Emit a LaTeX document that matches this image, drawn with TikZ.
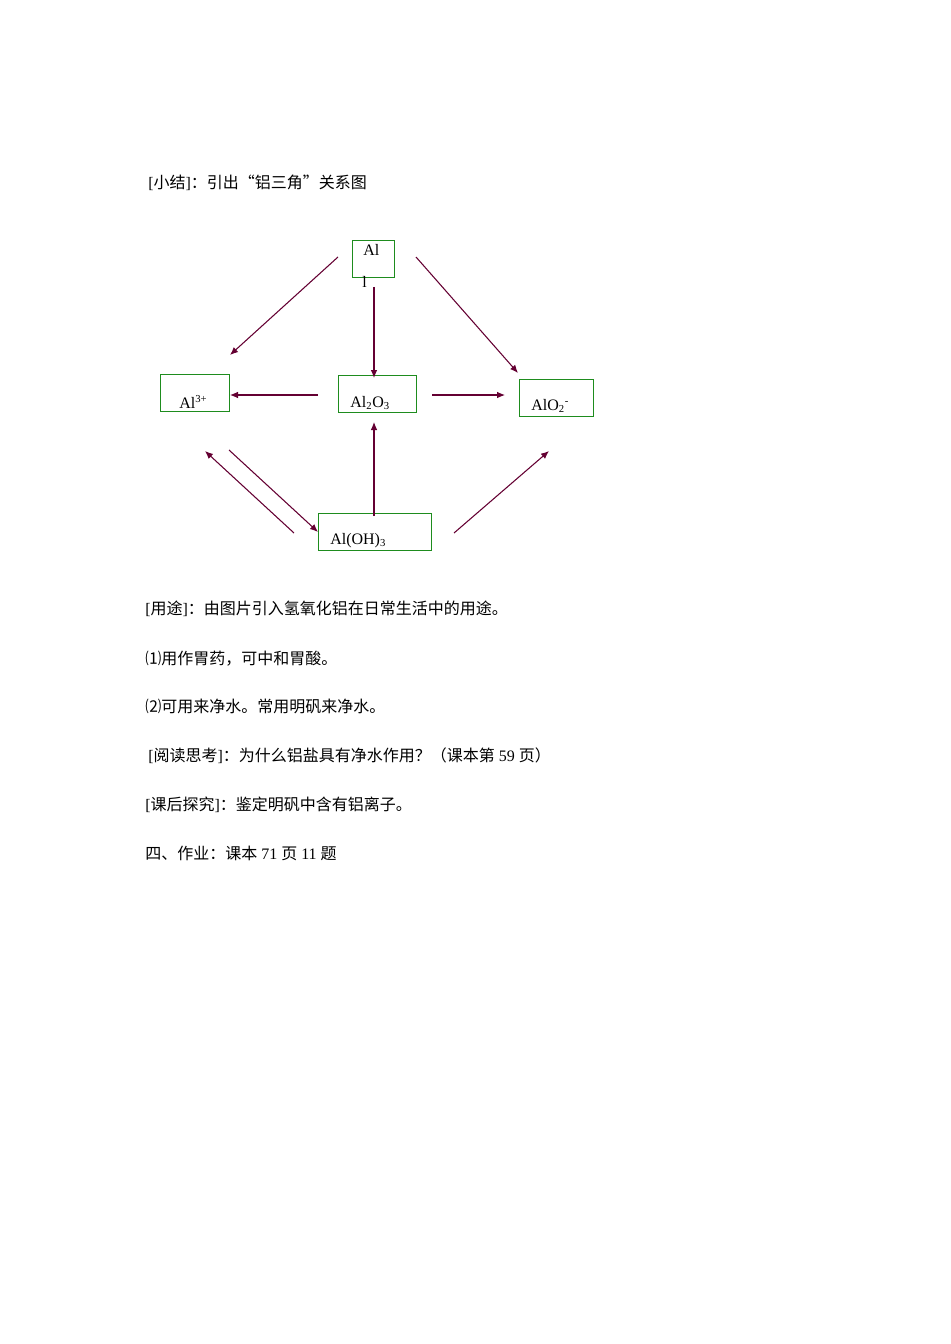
\documentclass[tikz,border=0pt]{standalone}
\usepackage{fontspec}
\usetikzlibrary{arrows.meta}
\setmainfont{Liberation Serif}
\newfontfamily\cjk{Noto Sans CJK SC}
\begin{document}
\begin{tikzpicture}[x=0.75pt,y=-0.75pt,
  box/.style={draw={rgb,255:red,30;green,140;blue,30},line width=0.6pt},
  arr/.style={draw={rgb,255:red,100;green,0;blue,50},line width=0.8pt,-{Latex[length=6pt,width=5pt]}},
  lbl/.style={anchor=base west,inner sep=0pt,font=\fontsize{12}{14}\selectfont},
  txt/.style={anchor=base west,inner sep=0pt,font=\fontsize{12}{14}\selectfont}]
\useasboundingbox (0,0) rectangle (950,1344);
% boxes
\draw[box] (352,240) rectangle (394,277);
\draw[box] (160,374) rectangle (229,411);
\draw[box] (338,375) rectangle (416,412);
\draw[box] (519,379) rectangle (593,416);
\draw[box] (318,513) rectangle (431,550);
\node[lbl] (al) at (363,256) {Al};
\node[lbl] (all) at (362,287) {l};
\node[lbl] (al3) at (179,408) {Al\textsuperscript{3+}};
\node[lbl] (al2o3) at (350,407) {Al\textsubscript{2}O\textsubscript{3}};
\node[lbl] (alo2) at (531,410) {AlO\textsubscript{2}\textsuperscript{-}};
\node[lbl] (aloh) at (330,544) {Al(OH)\textsubscript{3}};
% arrow endpoints
\foreach \n/\p in {a1/{338,257},b1/{230,355},a2/{374,287},b2/{374,378},a3/{416,257},b3/{518,373},
 a4/{318,395},b4/{230,395},a5/{432,395},b5/{505,395},a6/{294,533},b6/{205,451},
 a7/{229,450},b7/{318,532},a8/{374,516},b8/{374,422},a9/{454,533},b9/{549,451}}
 \coordinate (\n) at (\p);
\foreach \i in {1,...,9} \draw[arr] (a\i) -- (b\i);
% texts
\node[txt] (t0) at (148,189) {[{\cjk 小结}]{\cjk ：引出“铝三角”关系图}};
\node[txt] (t1) at (145,614) {[{\cjk 用途}]{\cjk ：由图片引入氢氧化铝在日常生活中的用途。}};
\node[txt] (t2) at (145,664) {{\cjk ⑴用作胃药，可中和胃酸。}};
\node[txt] (t3) at (145,712) {{\cjk ⑵可用来净水。常用明矾来净水。}};
\node[txt] (t4) at (148,761) {[{\cjk 阅读思考}]{\cjk ：为什么铝盐具有净水作用？（课本第} 59 {\cjk 页）}};
\node[txt] (t5) at (145,810) {[{\cjk 课后探究}]{\cjk ：鉴定明矾中含有铝离子。}};
\node[txt] (t6) at (145,859) {{\cjk 四、作业：课本} 71 {\cjk 页} 11 {\cjk 题}};
\end{tikzpicture}
\end{document}
